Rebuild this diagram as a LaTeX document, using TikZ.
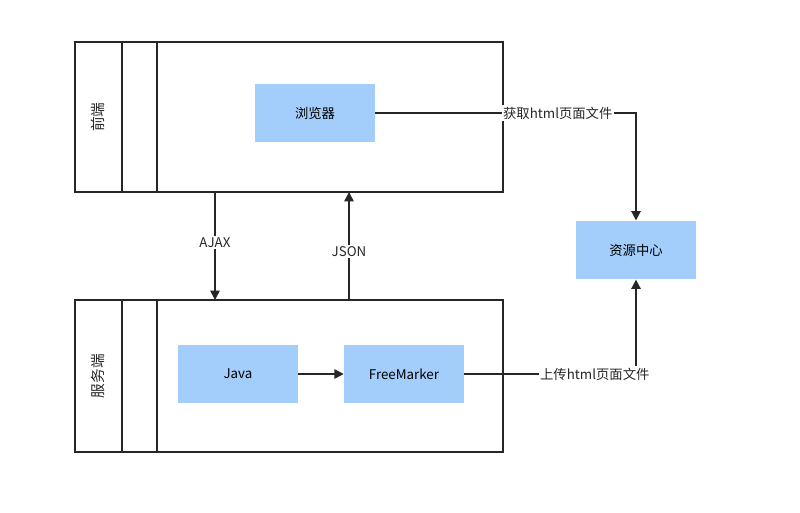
\documentclass[tikz,border=0pt]{standalone}
\usepackage{fontspec}
\setmainfont{Noto Sans CJK SC}
\usetikzlibrary{arrows.meta}
\begin{document}
\begin{tikzpicture}[x=0.75pt,y=-0.75pt,
  frame/.style={draw=black!85,line width=1.3pt},
  blue/.style={fill=blue!5!cyan!25!white,fill=[HTML]A3CDFB},
  bbox/.style={fill={rgb,255:red,163;green,205;blue,251},draw=none,minimum width=90pt,minimum height=44pt,font=\fontsize{10}{12}\selectfont},
  conn/.style={draw=black!85,line width=1.2pt,-{Triangle[length=7pt,width=7pt]}},
  lbl/.style={fill=white,inner sep=1pt,font=\fontsize{10}{12}\selectfont,text=black!85}]
\useasboundingbox (0,0) rectangle (800,512);
% front
\draw[frame] (75,42) rectangle (503,192);
\draw[frame] (122,42) -- (122,192) (157,42) -- (157,192);
\node[rotate=90,font=\fontsize{11}{13}\selectfont,text=black!85] (fe) at (98,117) {前端};
% server
\draw[frame] (75,300) rectangle (503,452);
\draw[frame] (122,300) -- (122,452) (157,300) -- (157,452);
\node[rotate=90,font=\fontsize{11}{13}\selectfont,text=black!85] (se) at (98,376) {服务端};
\coordinate (ftop) at (0,192);
\coordinate (sbot) at (0,300);
\node[bbox] (br) at (315,113) {浏览器};
\node[bbox] (java) at (238,374) {Java};
\node[bbox] (fm) at (404,374) {FreeMarker};
\node[bbox] (rc) at (636,250) {资源中心};
\draw[conn] (br.east) -| (rc.north) node[lbl,pos=0.35] {获取html页面文件};
\draw[conn] (fm.east) -| (rc.south) node[lbl,pos=0.38] {上传html页面文件};
\draw[conn] (java) -- (fm);
\coordinate (a1) at (215,192); \coordinate (a2) at (215,300);
\coordinate (j1) at (349,300); \coordinate (j2) at (349,192);
\draw[conn] (a1) -- (a2) node[lbl,pos=0.47] {AJAX};
\draw[conn] (j1) -- (j2) node[lbl,pos=0.45] {JSON};
\end{tikzpicture}
\end{document}
